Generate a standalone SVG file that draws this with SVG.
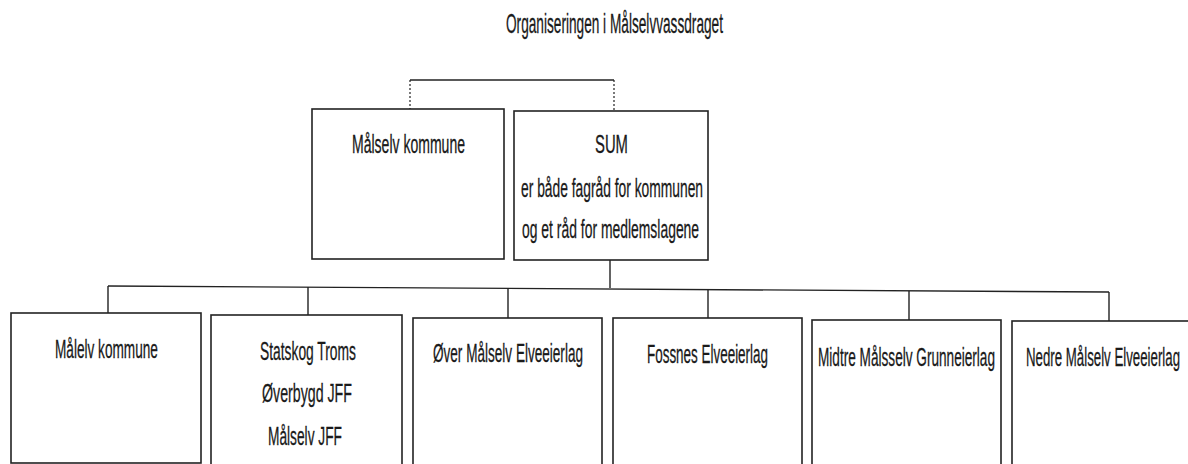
<svg xmlns="http://www.w3.org/2000/svg" width="1188" height="464" viewBox="0 0 1188 464">
<style>
  .box { fill: #ffffff; stroke: #222222; stroke-width: 1.6; }
  .ln { fill: none; stroke: #222222; stroke-width: 1.4; }
  .dash { fill: none; stroke: #222222; stroke-width: 1.2; stroke-dasharray: 2 2; }
  .t { font-family: "Liberation Sans", Arial, sans-serif; font-size: 26px; fill: #1a1a1a; stroke: #1a1a1a; stroke-width: 0.3; text-anchor: start; }
  .title { font-size: 27px; }
</style>
<rect width="1188" height="464" fill="#ffffff"/>
<text class="t title" transform="translate(506,33) scale(0.55,1)" x="0" y="0" textLength="394.5" lengthAdjust="spacingAndGlyphs">Organiseringen i Målselvvassdraget</text>

<g id="connectors">
  <path class="ln" d="M410,80 H614"/>
  <path class="dash" d="M410,80 V109"/>
  <path class="dash" d="M614,80 V111"/>
  <path class="ln" d="M610,260 V288"/>
  <path class="ln" d="M108,286 L1109,292"/>
  <path class="ln" d="M108,286 V313"/>
  <path class="ln" d="M308,287 V315"/>
  <path class="ln" d="M508,288 V318"/>
  <path class="ln" d="M708,290 V318"/>
  <path class="ln" d="M909,291 V320"/>
  <path class="ln" d="M1109,292 V321"/>
</g>

<g id="node-malselv-kommune">
  <rect class="box" x="312" y="109" width="192" height="150"/>
  <text class="t" transform="translate(352,153) scale(0.55,1)" x="0" y="0" textLength="205.5" lengthAdjust="spacingAndGlyphs">Målselv kommune</text>
</g>
<g id="node-sum">
  <rect class="box" x="514" y="111" width="194" height="149"/>
  <text class="t" transform="translate(595,153) scale(0.55,1)" x="0" y="0" textLength="60" lengthAdjust="spacingAndGlyphs">SUM</text>
  <text class="t" transform="translate(521,197) scale(0.55,1)" x="0" y="0" textLength="331" lengthAdjust="spacingAndGlyphs">er både fagråd for kommunen</text>
  <text class="t" transform="translate(522,238) scale(0.55,1)" x="0" y="0" textLength="322" lengthAdjust="spacingAndGlyphs">og et råd for medlemslagene</text>
</g>

<g id="node-malelv-kommune">
  <rect class="box" x="11" y="313" width="190" height="150"/>
  <text class="t" transform="translate(55,358) scale(0.55,1)" x="0" y="0" textLength="187" lengthAdjust="spacingAndGlyphs">Målelv kommune</text>
</g>
<g id="node-statskog">
  <rect class="box" x="211" y="315" width="191" height="150"/>
  <text class="t" transform="translate(260,360) scale(0.55,1)" x="0" y="0" textLength="174.5" lengthAdjust="spacingAndGlyphs">Statskog Troms</text>
  <text class="t" transform="translate(262,402) scale(0.55,1)" x="0" y="0" textLength="163.6" lengthAdjust="spacingAndGlyphs">Øverbygd JFF</text>
  <text class="t" transform="translate(268,445) scale(0.55,1)" x="0" y="0" textLength="134.5" lengthAdjust="spacingAndGlyphs">Målselv JFF</text>
</g>
<g id="node-over-malselv">
  <rect class="box" x="413" y="318" width="189" height="150"/>
  <text class="t" transform="translate(433,362) scale(0.55,1)" x="0" y="0" textLength="272.7" lengthAdjust="spacingAndGlyphs">Øver Målselv Elveeierlag</text>
</g>
<g id="node-fossnes">
  <rect class="box" x="613" y="318" width="189" height="150"/>
  <text class="t" transform="translate(647,363) scale(0.55,1)" x="0" y="0" textLength="220" lengthAdjust="spacingAndGlyphs">Fossnes Elveeierlag</text>
</g>
<g id="node-midtre">
  <rect class="box" x="812" y="320" width="189" height="150"/>
  <text class="t" transform="translate(818,366) scale(0.55,1)" x="0" y="0" textLength="321.8" lengthAdjust="spacingAndGlyphs">Midtre Målsselv Grunneierlag</text>
</g>
<g id="node-nedre">
  <rect class="box" x="1012" y="321" width="190" height="150"/>
  <text class="t" transform="translate(1026,366) scale(0.51,1)" x="0" y="0" textLength="302" lengthAdjust="spacingAndGlyphs">Nedre Målselv Elveeierlag</text>
</g>
</svg>
